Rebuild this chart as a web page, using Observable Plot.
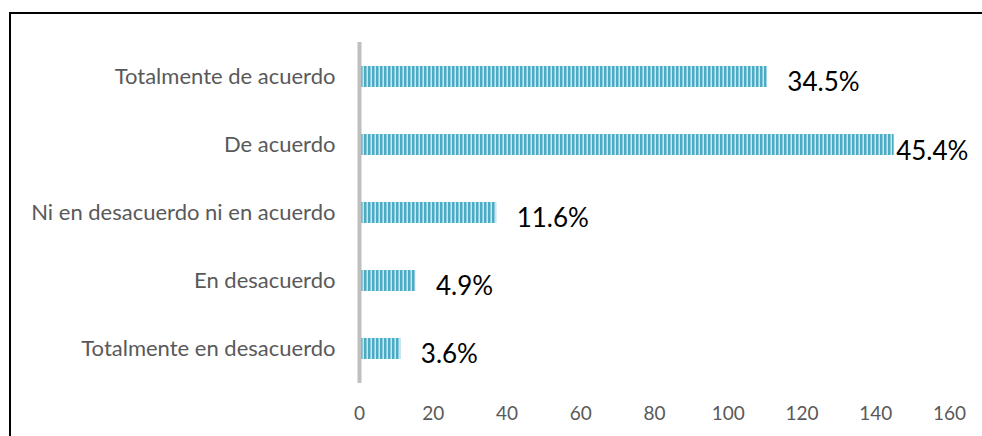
<!DOCTYPE html>
<html>
<head>
<meta charset="utf-8">
<script src="https://cdn.jsdelivr.net/npm/d3@7"></script>
<script src="https://cdn.jsdelivr.net/npm/@observablehq/plot@0.6"></script>
<style>
  html, body { margin: 0; padding: 0; background: #fff; overflow: hidden; }
  #wrap { position: relative; width: 982px; height: 436px; overflow: hidden; }
  #frame { position: absolute; left: 9px; top: 12px; width: 990px; height: 440px;
           border: 2px solid #000; box-sizing: border-box; pointer-events: none; }
</style>
</head>
<body>
<div id="wrap"><div id="frame"></div></div>
<script>
const categories = [
  "Totalmente de acuerdo",
  "De acuerdo",
  "Ni en desacuerdo ni en acuerdo",
  "En desacuerdo",
  "Totalmente en desacuerdo"
];
const counts = [110.6, 145, 37.2, 15.3, 11.2];
const percentLabels = ["34.5%", "45.4%", "11.6%", "4.9%", "3.6%"];
const xTicks = [0, 20, 40, 60, 80, 100, 120, 140, 160];

const data = categories.map((c, i) => ({category: c, value: counts[i], label: percentLabels[i]}));
const maxVal = d3.max(counts);
const FONT = "Lato, 'Open Sans', sans-serif";

const chart = Plot.plot({
  width: 982,
  height: 436,
  marginLeft: 359,
  marginRight: 33,
  marginTop: 42,
  marginBottom: 53,
  style: {fontFamily: FONT, background: "transparent", overflow: "visible"},
  x: {domain: [0, 160], ticks: xTicks},
  y: {domain: categories, paddingInner: 0.69, paddingOuter: 0.345},
  marks: [
    Plot.axisX({ticks: xTicks, tickSize: 0, tickPadding: 23, fontSize: 19, fill: "#595959", label: null}),
    Plot.axisY({tickSize: 0, tickPadding: 24, fontSize: 22, fill: "#595959", label: null}),
    Plot.barX(data, {x: "value", y: "category", fill: "url(#stripes)"}),
    Plot.ruleX([0], {stroke: "#bfbfbf", strokeWidth: 4}),
    Plot.text(data.filter(d => d.value !== maxVal), {x: "value", y: "category", text: "label",
      textAnchor: "start", dx: 20, dy: 6, fontSize: 26, fill: "#000"}),
    Plot.text(data.filter(d => d.value === maxVal), {x: "value", y: "category", text: "label",
      textAnchor: "start", dx: 2, dy: 7, fontSize: 26, fill: "#000"})
  ]
});

// stripe pattern for bars
const svg = d3.select(chart);
const defs = svg.insert("defs", ":first-child");
const pat = defs.append("pattern").attr("id", "stripes")
  .attr("patternUnits", "userSpaceOnUse").attr("width", 4).attr("height", 4);
pat.append("rect").attr("x", 0).attr("y", 0).attr("width", 4).attr("height", 4).attr("fill", "#8fcadb");
pat.append("rect").attr("x", 0).attr("y", 0).attr("width", 2).attr("height", 4).attr("fill", "#4aabc5");
pat.append("rect").attr("x", 3).attr("y", 0).attr("width", 1).attr("height", 4).attr("fill", "#c9e7ef");

const wrap = document.getElementById("wrap");
wrap.insertBefore(chart, wrap.firstChild);
</script>
</body>
</html>
